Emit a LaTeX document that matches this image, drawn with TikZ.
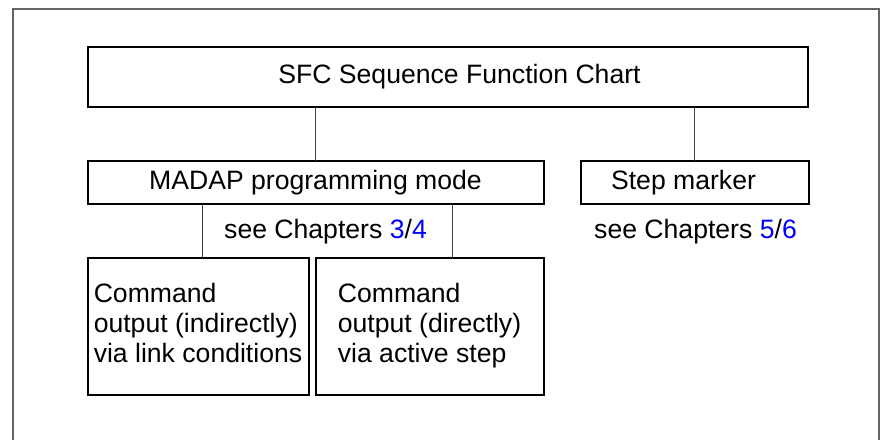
\documentclass[tikz,border=0pt]{standalone}
\usepackage{fontspec}
\setmainfont{Liberation Sans}
\usepackage{tikz}
\usetikzlibrary{positioning}
\definecolor{chapblue}{RGB}{0,0,255}
\definecolor{framegray}{RGB}{100,100,100}
\tikzset{
  box/.style={draw, line width=1pt, inner sep=0pt, outer sep=0pt},
  cmdbox/.style={box, align=left, text depth=4pt, minimum width=#1, minimum height=68.5pt},
  link/.style={draw=black!75, line width=0.5pt},
}
\newcommand{\chap}[1]{\textcolor{chapblue}{#1}}

\begin{document}
\begin{tikzpicture}[x=0.5pt, y=-0.5pt, font=\fontsize{13.3}{15}\selectfont]
\useasboundingbox (0,0) rectangle (881,439);
\draw[framegray, line width=0.75pt] (13,440) -- (13,9) -- (879,9) -- (879,440);

\node[box, minimum width=360pt, minimum height=30pt] (sfc) at (447.5,77) {\hspace{12pt}SFC Sequence Function Chart};
\node[box, minimum width=228pt, minimum height=21.5pt, below right=27pt and 0pt of sfc.south west] (mode) {MADAP programming mode};
\node[box, minimum width=114pt, minimum height=21.5pt, right=18.5pt of mode] (step) {Step marker\kern11pt};
\node[anchor=base] (seemode) at (325.5,238) {see Chapters \chap{3}/\chap{4}};
\node[anchor=base] (seestep) at (695.5,238) {see Chapters \chap{5}/\chap{6}};
\node[cmdbox=110.5pt, below right=27pt and 0pt of mode.south west] (ind) {Command\\output (indirectly)\\via link conditions};
\node[cmdbox=114pt, right=3.5pt of ind] (dir) {Command\\output (directly)\\via active step};

\draw[link] (mode.north) -- (mode.north |- sfc.south);
\draw[link] (step.north) -- (step.north |- sfc.south);
\draw[link] ([xshift=2.25pt]ind.north) -- ([xshift=2.25pt]ind.north |- mode.south);
\draw[link] ([xshift=11.5pt]dir.north) -- ([xshift=11.5pt]dir.north |- mode.south);
\end{tikzpicture}
\end{document}
